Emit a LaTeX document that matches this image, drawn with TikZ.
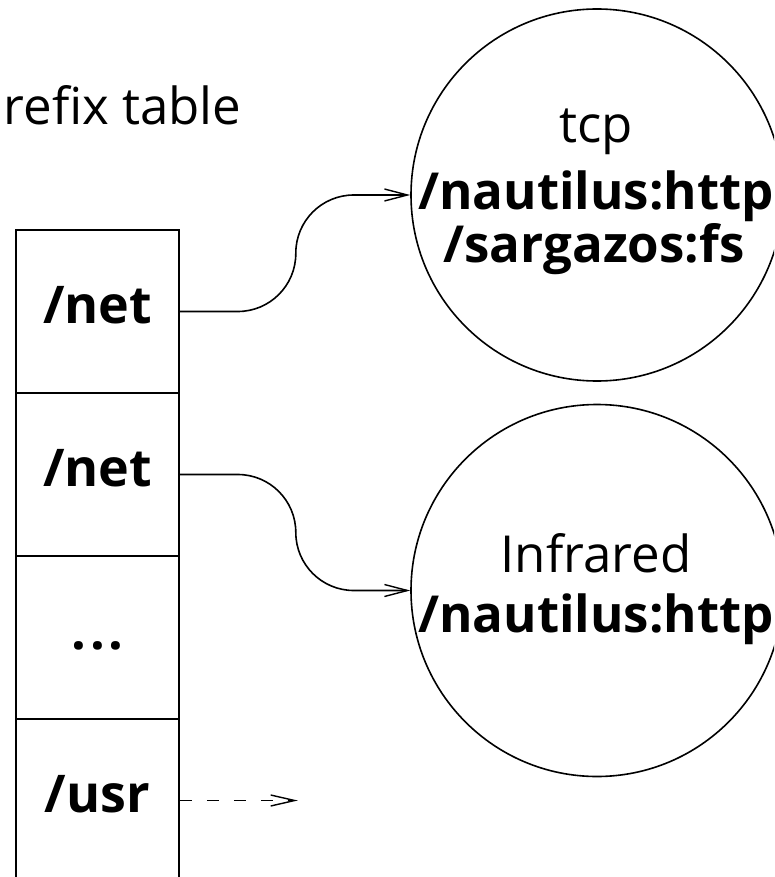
\documentclass[tikz,border=0pt]{standalone}
\usepackage{fontspec}
\setmainfont{Open Sans}
\usetikzlibrary{arrows.meta}
\begin{document}
\begin{tikzpicture}[x=1pt,y=-1pt,
  line width=1.6pt,
  rowbox/.style={draw, rectangle, minimum width=163pt, minimum height=163pt, inner sep=0pt,
    font=\fontsize{52}{62}\selectfont\bfseries, text height=40pt, text depth=17pt},
  bubble/.style={draw, circle, minimum size=372pt, inner sep=0pt},
  plaintext/.style={font=\fontsize{51}{60}\selectfont, anchor=base, inner sep=0pt},
  heavytext/.style={font=\fontsize{51}{60}\selectfont\bfseries, anchor=base, inner sep=0pt},
  link/.style={-{Straight Barb[length=23pt,width=12pt,line width=1.4pt]}, rounded corners=58pt},
  dashlink/.style={-{Straight Barb[length=24pt,width=11pt,line width=1.4pt]}, dash pattern=on 12pt off 15pt},
]
\useasboundingbox (0,0) rectangle (774,877);
\clip (0,0) rectangle (774,877);

% title (as printed)
\node[plaintext, anchor=base west] (title) at (3,125) {refix table};

% table rows
\node[rowbox] (r1) at (97.5,311.5) {/net};
\node[rowbox] (r2) at (97.5,474.5) {/net};
\node[rowbox] (r3) at (97.5,637.5) {.\kern4pt.\kern4pt.};
\node[rowbox] (r4) at (97.5,800.5) {/usr};

% circles
\node[bubble] (c1) at (597,195) {};
\node[bubble] (c2) at (597,590.5) {};

\node[plaintext] (c1a) at (596,143) {tcp};
\node[heavytext] (c1b) at (596,210) {/nautilus:http};
\node[heavytext] (c1c) at (594,262) {/sargazos:fs};

\node[plaintext] (c2a) at (596,572) {Infrared};
\node[heavytext] (c2b) at (596,632) {/nautilus:http};

% connectors
\draw[link] (r1.east) -- ++(116,0) |- (c1.west);
\draw[link] (r2.east) -- ++(116,0) |- (c2.west);
\draw[dashlink] (r4.east) -- ++(118,0) coordinate (usrend);
\end{tikzpicture}
\end{document}
